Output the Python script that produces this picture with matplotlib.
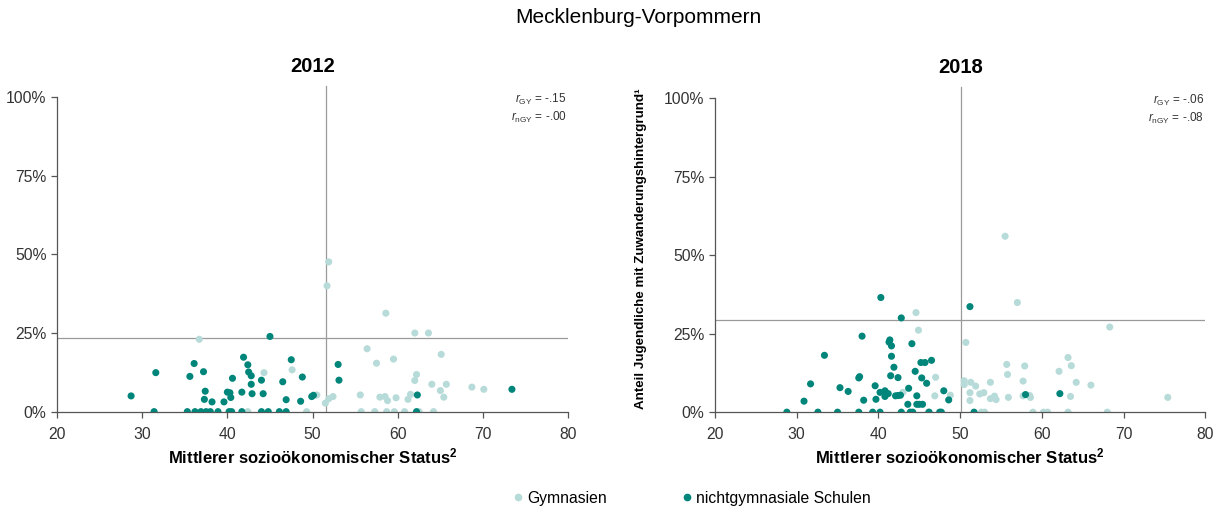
import matplotlib.pyplot as plt
from matplotlib.lines import Line2D
import numpy as np

plt.rcParams['font.family'] = ['Liberation Sans', 'DejaVu Sans']
plt.rcParams['mathtext.fontset'] = 'custom'
plt.rcParams['mathtext.rm'] = 'Liberation Sans'
plt.rcParams['mathtext.it'] = 'Liberation Sans:italic'
plt.rcParams['mathtext.bf'] = 'Liberation Sans:bold'

# --- data ---
gy12_x = [36.7, 42.4, 44.3, 47.6, 49.3, 50.5, 51.5, 51.7, 51.9, 51.9, 52.4, 55.6, 55.7, 56.4,
          57.3, 57.5, 57.9, 58.5, 58.6, 58.8, 58.7, 59.5, 59.8, 59.6, 60.8, 61.2, 61.5, 62.0,
          62.0, 62.2, 62.5, 63.6, 64.0, 64.2, 65.0, 65.1, 65.4, 65.7, 68.7, 70.1]
gy12_y = [23.0, 0, 12.4, 13.3, 0, 5.3, 2.7, 40.0, 47.6, 4.1, 4.8, 5.3, 0, 20.0,
          0, 15.4, 4.6, 4.8, 31.3, 3.5, 0, 16.7, 4.4, 0, 0, 3.9, 5.5, 25.0,
          9.9, 11.8, 0, 25.0, 8.7, 0, 6.7, 18.2, 4.6, 8.7, 7.8, 7.1]

ngy12_x = [28.7, 31.4, 31.6, 35.3, 35.6, 36.1, 36.2, 36.9, 37.2, 37.4, 37.3, 37.5, 38.0, 38.2,
           38.9, 39.6, 40.0, 40.3, 40.4, 40.2, 40.5, 40.6, 41.7, 41.7, 41.9, 42.4, 42.5, 42.8,
           42.8, 42.9, 44.0, 44.2, 44.0, 44.8, 45.0, 46.1, 46.5, 46.9, 46.9, 47.5, 48.6, 48.8,
           49.9, 50.1, 53.0, 53.1, 62.3, 62.2, 73.4]
ngy12_y = [5.0, 0, 12.4, 0, 11.2, 15.3, 0, 0, 12.7, 6.5, 3.9, 0, 0, 3.1,
           0, 3.1, 6.2, 6.0, 4.5, 0, 0, 10.6, 6.2, 0, 17.3, 14.9, 12.6, 11.4,
           8.7, 5.7, 10.0, 5.7, 0, 0, 23.9, 0, 9.5, 3.8, 0, 16.5, 3.3, 11.0,
           4.8, 5.2, 15.0, 10.0, 5.3, 0, 7.1]

gy18_x = [44.6, 44.9, 43.0, 47.0, 46.9, 46.1, 48.8, 55.5, 57.0, 68.3, 50.7, 63.2, 63.6, 55.7,
          57.9, 55.8, 62.1, 50.5, 50.5, 51.3, 51.9, 53.7, 57.7, 64.2, 66.0, 51.2, 51.2, 52.4,
          52.9, 53.7, 54.2, 54.4, 55.9, 57.7, 58.5, 58.6, 63.5, 75.4, 52.6, 53.0, 58.9, 60.2,
          60.7, 63.2, 68.0]
gy18_y = [31.7, 26.1, 6.3, 11.1, 5.2, 0, 5.4, 56.0, 34.9, 27.1, 22.2, 17.4, 14.8, 15.2,
          14.7, 12.0, 13.0, 10.0, 8.8, 9.5, 8.3, 9.5, 9.9, 9.5, 8.6, 6.2, 3.7, 5.8,
          6.2, 4.3, 5.1, 4.0, 4.7, 5.2, 5.3, 4.7, 5.0, 4.7, 0, 0, 0, 0,
          0, 0, 0]

ngy18_x = [28.8, 30.9, 31.7, 32.6, 33.4, 35.0, 35.3, 36.3, 37.6, 37.7, 37.6, 38.0, 38.2, 39.3,
           39.6, 39.7, 40.2, 40.3, 40.2, 40.8, 40.8, 41.2, 41.3, 41.4, 41.6, 41.6, 41.9, 41.5,
           42.1, 42.4, 42.4, 42.7, 42.8, 42.8, 43.6, 43.7, 43.9, 44.2, 44.1, 44.5, 44.7, 44.7,
           45.0, 45.4, 45.2, 45.3, 45.7, 45.9, 46.2, 46.5, 47.5, 47.7, 48.0, 48.6, 51.2, 51.7,
           58.0, 62.2]
ngy18_y = [0, 3.5, 9.0, 0, 18.1, 0, 7.8, 6.6, 10.9, 11.3, 0, 24.2, 3.8, 0,
           8.4, 4.1, 0, 36.5, 6.3, 6.8, 5.0, 5.9, 22.3, 23.0, 21.1, 17.8, 14.3, 11.6,
           5.2, 11.0, 5.3, 5.4, 30.0, 0, 2.5, 7.6, 0, 0, 21.8, 13.0, 5.2, 2.5,
           2.5, 2.5, 15.8, 10.9, 15.8, 9.2, 0, 16.5, 0, 0, 6.8, 3.9, 33.6, 0,
           5.6, 5.9]

mean_x = {'2012': 51.6, '2018': 50.1}
mean_y = {'2012': 23.4, '2018': 29.3}
r_gy = {'2012': '-.15', '2018': '-.06'}
r_ngy = {'2012': '-.00', '2018': '-.08'}

light = '#b7dbd8'
dark = '#00857a'
grey = '#9a9a9a'

fig = plt.figure(figsize=(12.2, 5.12), dpi=100)
ax1 = fig.add_axes([0.0467, 0.196, 0.419, 0.639])
ax2 = fig.add_axes([0.586, 0.195, 0.402, 0.638])

panels = [(ax1, '2012', gy12_x, gy12_y, ngy12_x, ngy12_y),
          (ax2, '2018', gy18_x, gy18_y, ngy18_x, ngy18_y)]

for ax, yr, gx, gy, nx, ny in panels:
    ax.axvline(mean_x[yr], ymin=0, ymax=0.995, color=grey, lw=0.9, zorder=1)
    ax.axhline(mean_y[yr] / 100, color=grey, lw=0.9, zorder=1)
    ax.scatter(gx, np.array(gy) / 100, s=26, color=light, edgecolors='none', zorder=2)
    ax.scatter(nx, np.array(ny) / 100, s=26, color=dark, edgecolors='none', zorder=3)
    ax.set_xlim(20, 80)
    ax.set_ylim(0, 1.04)
    ax.set_xticks([20, 30, 40, 50, 60, 70, 80])
    ax.set_yticks([0, 0.25, 0.5, 0.75, 1.0])
    ax.set_yticklabels(['0%', '25%', '50%', '75%', '100%'])
    ax.spines['top'].set_visible(False)
    ax.spines['right'].set_visible(False)
    ax.spines['left'].set_bounds(0, 1)
    for s in ['left', 'bottom']:
        ax.spines[s].set_color('#555555')
        ax.spines[s].set_linewidth(0.9)
    ax.tick_params(colors='#555555', labelcolor='#333333', labelsize=11.3, length=4, width=0.9)
    ax.tick_params(axis='x', pad=7)
    ax.set_title(yr, fontsize=14.5, fontweight='bold', pad=9)
    ax.set_xlabel(r'Mittlerer sozioökonomischer Status$^{\mathbf{2}}$', fontsize=12,
                  fontweight='bold', labelpad=3)
    ax.text(0.997, 0.955, r'$r_{\mathrm{GY}}$ = ' + r_gy[yr], transform=ax.transAxes,
            ha='right', va='center', fontsize=8.5, color='#333333')
    ax.text(0.997, 0.9, r'$r_{\mathrm{nGY}}$ = ' + r_ngy[yr], transform=ax.transAxes,
            ha='right', va='center', fontsize=8.5, color='#333333')

ax2.set_ylabel('Anteil Jugendliche mit Zuwanderungshintergrund¹', fontsize=9.6,
               fontweight='bold', labelpad=12)

fig.suptitle('Mecklenburg-Vorpommern', fontsize=15, x=0.523, y=0.985)

handles = [Line2D([], [], marker='o', ls='none', color=light, markersize=4.5),
           Line2D([], [], marker='o', ls='none', color=dark, markersize=4.5)]
fig.legend(handles, ['Gymnasien', 'nichtgymnasiale Schulen'], loc='lower center',
           bbox_to_anchor=(0.566, -0.015), ncol=2, frameon=False, fontsize=11.3,
           handletextpad=0.1, columnspacing=4.6, handlelength=1)

fig.savefig('out.png', dpi=100)
